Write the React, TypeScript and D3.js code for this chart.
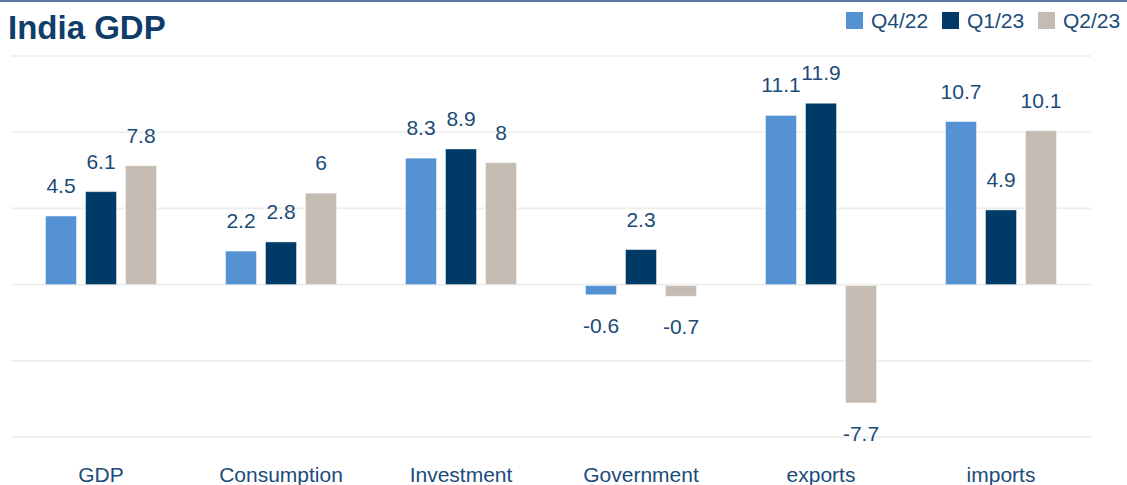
import React from "react";
import * as d3 from "d3";

const categories = ["GDP", "Consumption", "Investment", "Government", "exports", "imports"];
const seriesNames = ["Q4/22", "Q1/23", "Q2/23"];
const q422 = [4.5, 2.2, 8.3, -0.6, 11.1, 10.7];
const q123 = [6.1, 2.8, 8.9, 2.3, 11.9, 4.9];
const q223 = [7.8, 6, 8, -0.7, -7.7, 10.1];
const gridTicks = [-10, -5, 0, 5, 10, 15];
const colors = ["#5592D4", "#003A66", "#C4BCB2"];

const W = 1127;
const H = 485;
const TEXT = "#1B4B78";
const FONT = "'Liberation Sans', Arial, Helvetica, sans-serif";

export default function App() {
  const seriesValues = [q422, q123, q223];
  const x0 = d3.scaleBand<string>().domain(categories).range([11, 1091]).padding(0);
  const x1 = d3
    .scaleBand<string>()
    .domain(seriesNames)
    .range([-60, 60])
    .paddingInner(0.225)
    .paddingOuter(0.1125);
  const y = d3.scaleLinear().domain([-10, 15]).range([437, 56]);
  const fmt = (v: number) => String(v);

  return (
    <svg
      width={W}
      height={H}
      style={{ position: "absolute", left: 0, top: 0, background: "#fff" }}
      fontFamily={FONT}
    >
      <rect x={0} y={0} width={W} height={2} fill="#5B77A1" />
      <text x={8} y={39} fontSize={33} fontWeight="bold" fill="#0E3D6A">
        India GDP
      </text>

      {/* legend */}
      {seriesNames.map((s, i) => {
        const lx = [846, 942, 1038][i];
        return (
          <g key={s}>
            <rect x={lx} y={12} width={17} height={17} fill={colors[i]} />
            <text x={lx + 25} y={28} fontSize={21} fill={TEXT}>
              {s}
            </text>
          </g>
        );
      })}

      {/* gridlines */}
      {gridTicks.map((t) => (
        <line
          key={t}
          x1={11}
          x2={1091}
          y1={y(t)}
          y2={y(t)}
          stroke="#EDEDED"
          strokeWidth={1.6}
        />
      ))}

      {/* bars */}
      {categories.map((c, ci) => {
        const cx = (x0(c) as number) + x0.bandwidth() / 2;
        return (
          <g key={c}>
            {seriesNames.map((s, si) => {
              const v = seriesValues[si][ci];
              const bx = cx + (x1(s) as number);
              const top = v >= 0 ? y(v) : y(0) + 1;
              const h = Math.abs(y(v) - y(0));
              return (
                <g key={s}>
                  <rect
                    x={bx}
                    y={top}
                    width={x1.bandwidth()}
                    height={h}
                    fill={colors[si]}
                    stroke="rgba(255,255,255,0.45)"
                    strokeWidth={1}
                  />
                  <text
                    x={bx + x1.bandwidth() / 2}
                    y={v >= 0 ? y(v) - 23 : y(v) + 39}
                    textAnchor="middle"
                    fontSize={21}
                    fill={TEXT}
                  >
                    {fmt(v)}
                  </text>
                </g>
              );
            })}
            <text x={cx} y={482} textAnchor="middle" fontSize={21} fill={TEXT}>
              {c}
            </text>
          </g>
        );
      })}
    </svg>
  );
}
